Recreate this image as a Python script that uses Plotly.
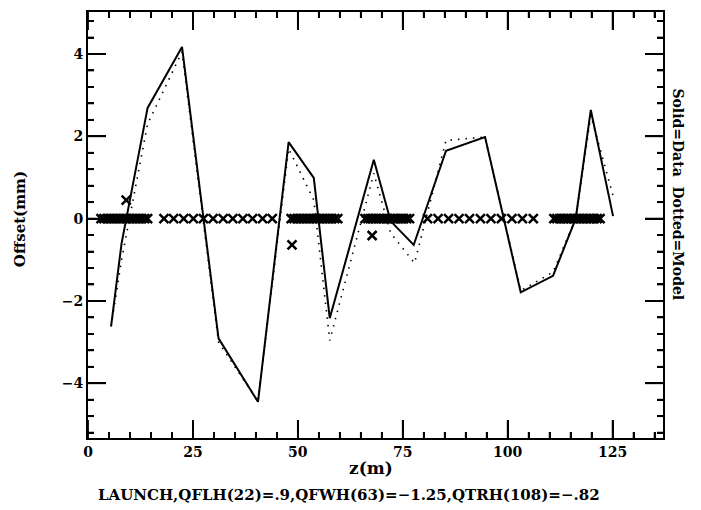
import plotly.graph_objects as go

# Measured orbit (solid) and model orbit (dotted)
data_z = [5.5, 8.0, 14.2, 22.4, 31.1, 40.5, 47.8, 53.8, 57.6, 68.1, 72.1, 77.6, 85.3, 94.6, 103.1, 110.8, 116.2, 119.8, 125.1]
data_y = [-2.62, -0.6, 2.69, 4.17, -2.91, -4.45, 1.86, 0.99, -2.42, 1.43, -0.06, -0.64, 1.65, 1.98, -1.79, -1.39, 0.0, 2.64, 0.06]

model_z = [5.5, 8.0, 14.2, 22.4, 31.1, 40.5, 47.8, 53.8, 57.6, 68.1, 72.1, 77.8, 85.3, 94.6, 103.1, 110.8, 116.2, 119.8, 125.4]
model_y = [-2.62, -1.0, 2.3, 4.05, -3.0, -4.45, 1.7, 0.45, -2.96, 1.1, -0.35, -1.08, 1.9, 1.98, -1.75, -1.3, 0.0, 2.5, 0.45]

# Element positions (x markers)
elem_z = [3.1, 3.8, 4.5, 5.2, 5.9, 6.6, 7.3, 8.0, 8.7, 9.3, 10.0, 10.7, 11.4, 12.1, 12.8, 13.5, 14.2,
          18.1, 20.4, 22.8, 25.1, 27.5, 29.8, 32.2, 34.5, 36.9, 39.2, 41.6, 43.9,
          48.4, 49.1, 49.8, 50.5, 51.2, 51.9, 52.6, 53.3, 54.0, 54.6, 55.3, 56.0, 56.7, 57.4, 58.1, 58.8, 59.5,
          66.0, 66.7, 67.3, 68.0, 68.6, 69.3, 69.9, 70.6, 71.3, 71.9, 72.6, 73.2, 73.9, 74.6, 75.2, 75.9, 76.6,
          80.9, 83.4, 85.9, 88.4, 90.9, 93.5, 96.0, 98.5, 101.0, 103.5, 106.1,
          111.0, 111.7, 112.4, 113.1, 113.8, 114.4, 115.1, 115.8, 116.5, 117.2, 117.9, 118.6, 119.3, 119.9, 120.6, 121.3, 122.0]
elem_y = [0.0] * len(elem_z)

kick_z = [9.1, 48.6, 67.7]
kick_y = [0.45, -0.64, -0.41]

x_ticks = [0, 25, 50, 75, 100, 125]
y_ticks = [-4, -2, 0, 2, 4]
x_range = [0, 137]
y_range = [-5.33, 5.02]

FONT = "DejaVu Serif"

fig = go.Figure()
mk = dict(symbol="x-thin", size=9, color="black", line=dict(width=2.5, color="black"))
fig.add_trace(go.Scatter(x=elem_z, y=elem_y, mode="markers", marker=mk, showlegend=False))
fig.add_trace(go.Scatter(x=kick_z, y=kick_y, mode="markers", marker=mk, showlegend=False))
fig.add_trace(go.Scatter(x=model_z, y=model_y, mode="lines",
                         line=dict(color="black", width=1.6, dash="1.5px,6px"),
                         showlegend=False))
fig.add_trace(go.Scatter(x=data_z, y=data_y, mode="lines",
                         line=dict(color="black", width=2),
                         showlegend=False))

def fmt(v):
    return "<b>" + ("\u2212" + str(-v) if v < 0 else str(v)) + "</b>"

fig.update_xaxes(range=x_range, tickmode="array", tickvals=x_ticks, ticktext=[fmt(v) for v in x_ticks],
                 ticks="inside", ticklen=18, tickwidth=2,
                 tickcolor="black", showline=True, linecolor="black", linewidth=2, mirror="ticks",
                 gridcolor="white", zerolinecolor="white",
                 minor=dict(ticks="inside", ticklen=6, dtick=5, tickcolor="black"),
                 tickfont=dict(family=FONT, size=14, color="black"))
fig.update_yaxes(range=y_range, tickmode="array", tickvals=y_ticks, ticktext=[fmt(v) for v in y_ticks],
                 ticks="inside", ticklen=18, tickwidth=2,
                 tickcolor="black", showline=True, linecolor="black", linewidth=2, mirror="ticks",
                 gridcolor="white", zerolinecolor="white",
                 minor=dict(ticks="inside", ticklen=6, dtick=0.4, tickcolor="black"),
                 tickfont=dict(family=FONT, size=14, color="black"))

# Tick marks on all four frame sides (major long, minor short), placed via the axes' data scales
MAJ_X, MIN_X = 18 / 428, 6 / 428
MAJ_Y, MIN_Y = 18 / 575, 6 / 575
tick_line = dict(color="black", width=1.8)
x_minor = [v for v in range(5, 137, 5) if v % 25 != 0]
y_minor = [round(k * 0.4, 1) for k in range(-13, 13) if k % 5 != 0]
for v in x_ticks + x_minor:
    L = MAJ_X if v in x_ticks else MIN_X
    fig.add_shape(type="line", xref="x", yref="paper", x0=v, x1=v, y0=0, y1=L, line=tick_line)
    fig.add_shape(type="line", xref="x", yref="paper", x0=v, x1=v, y0=1, y1=1 - L, line=tick_line)
for v in y_ticks + y_minor:
    L = MAJ_Y if v in y_ticks else MIN_Y
    fig.add_shape(type="line", xref="paper", yref="y", x0=0, x1=L, y0=v, y1=v, line=tick_line)
    fig.add_shape(type="line", xref="paper", yref="y", x0=1, x1=1 - L, y0=v, y1=v, line=tick_line)

ann_font = dict(family=FONT, size=15, color="black")
fig.add_annotation(text="<b>Offset(mm)</b>", xref="paper", yref="paper", x=-0.118, y=0.514,
                   xanchor="center", yanchor="middle", textangle=-90, showarrow=False, font=ann_font)
fig.add_annotation(text="<b>Solid=Data  Dotted=Model</b>", xref="paper", yref="paper", x=1.026, y=0.572,
                   xanchor="center", yanchor="middle", textangle=90, showarrow=False,
                   font=dict(family=FONT, size=14, color="black"))
fig.add_annotation(text="<b>z(m)</b>", xref="paper", yref="paper", x=0.492, y=-0.07,
                   xanchor="center", yanchor="middle", showarrow=False,
                   font=dict(family=FONT, size=17, color="black"))
fig.add_annotation(text="<b>LAUNCH,QFLH(22)=.9,QFWH(63)=\u22121.25,QTRH(108)=\u2212.82</b>",
                   xref="paper", yref="paper", x=0.454, y=-0.133,
                   xanchor="center", yanchor="middle", showarrow=False, font=ann_font)

fig.update_layout(width=693, height=502, plot_bgcolor="white", paper_bgcolor="white",
                  margin=dict(l=80, r=38, t=2, b=72))

fig.write_html("out.html")
